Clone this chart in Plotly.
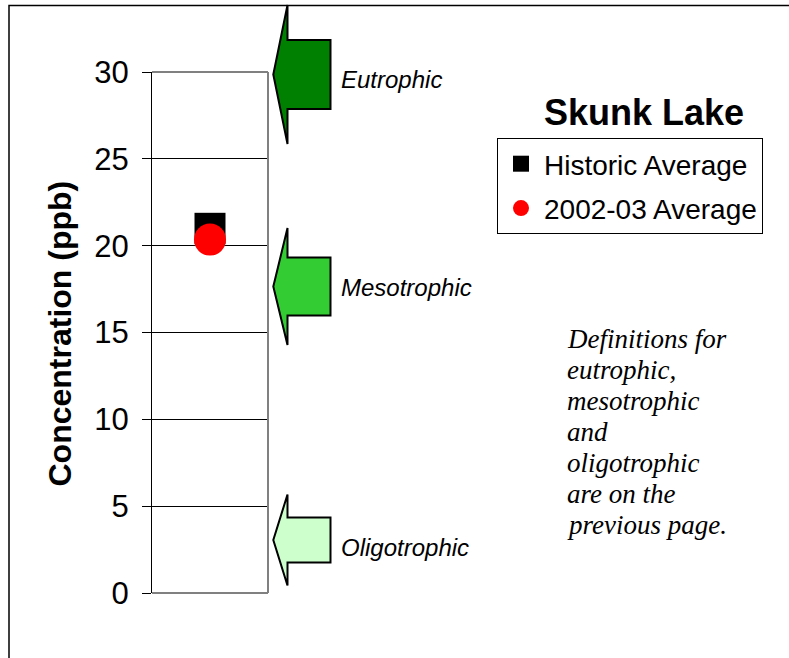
import plotly.graph_objects as go

# ---- data ----
lake = "Skunk Lake"
categories = [lake]
series_names = ["Historic Average", "2002-03 Average"]
historic_avg = [21.0]
recent_avg = [20.35]
y_ticks = [0, 5, 10, 15, 20, 25, 30]
trophic_labels = ["Eutrophic", "Mesotrophic", "Oligotrophic"]
note_lines = ["Definitions for", "eutrophic,", "mesotrophic", "and",
              "oligotrophic", "are on the", "previous page."]

# ---- layout geometry (pixels) ----
W, H = 789, 658
L, R, T, B = 152, 268, 72, 593   # plot area edges in pixels


def xp(px):
    return (px - L) / (R - L)


def yp(py):
    return (B - py) / (B - T)


fig = go.Figure()
fig.add_trace(go.Scatter(
    x=categories, y=historic_avg, mode="markers", name=series_names[0],
    marker=dict(symbol="square", size=31, color="black"),
    legendgroup="a"))
fig.add_trace(go.Scatter(
    x=categories, y=recent_avg, mode="markers", name=series_names[1],
    marker=dict(symbol="circle", size=32, color="red"),
    legendgroup="b"))

shapes = []
# outer frame
shapes.append(dict(type="rect", xref="paper", yref="paper",
                   x0=xp(9), x1=xp(820), y0=yp(5.5), y1=yp(700),
                   line=dict(color="black", width=1.5), layer="below"))
# plot area gray border (top, right, bottom)
for (x0, y0, x1, y1) in [(L, T, R, T), (R, T, R, B), (L, B, R, B)]:
    shapes.append(dict(type="line", xref="paper", yref="paper",
                       x0=xp(x0), y0=yp(y0), x1=xp(x1), y1=yp(y1),
                       line=dict(color="#808080", width=2), layer="above"))

# trophic arrows: (center y px, head height, body height, colour)
arrows = [(74.5, 139, 69, "#008000"),
          (286.5, 117, 58, "#33CC33"),
          (540, 91, 45, "#CCFFCC")]
tip_x, neck_x, end_x = 273.3, 287.5, 330.5
for cy, hh, bh, col in arrows:
    pts = [(tip_x, cy), (neck_x, cy - hh / 2), (neck_x, cy - bh / 2),
           (end_x, cy - bh / 2), (end_x, cy + bh / 2), (neck_x, cy + bh / 2),
           (neck_x, cy + hh / 2)]
    path = "M " + " L ".join(f"{xp(a):.5f},{yp(b):.5f}" for a, b in pts) + " Z"
    shapes.append(dict(type="path", xref="paper", yref="paper", path=path,
                       fillcolor=col, line=dict(color="black", width=2),
                       layer="above"))

annotations = []
for lbl, cy in zip(trophic_labels, [79, 287, 547]):
    annotations.append(dict(text=lbl, xref="paper", yref="paper",
                            x=xp(339), y=yp(cy), xanchor="left", yanchor="middle",
                            showarrow=False,
                            font=dict(family="Liberation Sans, Arial", size=24,
                                      color="black", style="italic")))
# title
annotations.append(dict(text="<b>" + lake + "</b>", xref="paper", yref="paper",
                        x=xp(644), y=yp(112), xanchor="center", yanchor="middle",
                        showarrow=False,
                        font=dict(family="Liberation Sans, Arial", size=36, color="black")))
# y-axis title
annotations.append(dict(text="<b>Concentration (ppb)</b>", xref="paper", yref="paper",
                        x=xp(59), y=yp(333.5), xanchor="center", yanchor="middle",
                        textangle=-90, showarrow=False,
                        font=dict(family="Liberation Sans, Arial", size=32, color="black")))
# notes
for i, line in enumerate(note_lines):
    annotations.append(dict(text=line, xref="paper", yref="paper",
                            x=xp(565), y=yp(339 + 31 * i), xanchor="left",
                            yanchor="middle", showarrow=False,
                            font=dict(family="Liberation Serif, Times New Roman",
                                      size=27, color="black", style="italic")))

fig.update_layout(
    width=W, height=H,
    margin=dict(l=L, r=W - R, t=T, b=H - B, pad=0),
    paper_bgcolor="white", plot_bgcolor="white",
    showlegend=True,
    legend=dict(x=497 / W, y=1 - 138 / H,
                xanchor="left", yanchor="top",
                xref="container", yref="container",
                bordercolor="black", borderwidth=1, bgcolor="white",
                traceorder="grouped", tracegroupgap=5, itemwidth=36,
                font=dict(family="Liberation Sans, Arial", size=28, color="black")),
    xaxis=dict(type="category", range=[-0.5, 0.5], showticklabels=False,
               showgrid=False, zeroline=False, showline=False, ticks=""),
    yaxis=dict(range=[0, 30], tickvals=y_ticks, showgrid=True,
               gridcolor="black", gridwidth=1, zeroline=False,
               showline=True, linecolor="black", linewidth=1,
               ticks="outside", ticklen=9, tickcolor="black", tickwidth=1,
               ticklabelstandoff=7,
               tickfont=dict(family="Liberation Sans, Arial", size=31, color="black")),
    shapes=shapes, annotations=annotations,
)

fig.write_html("out.html", config={"displayModeBar": False},
               post_script="document.body.style.margin='0';")
